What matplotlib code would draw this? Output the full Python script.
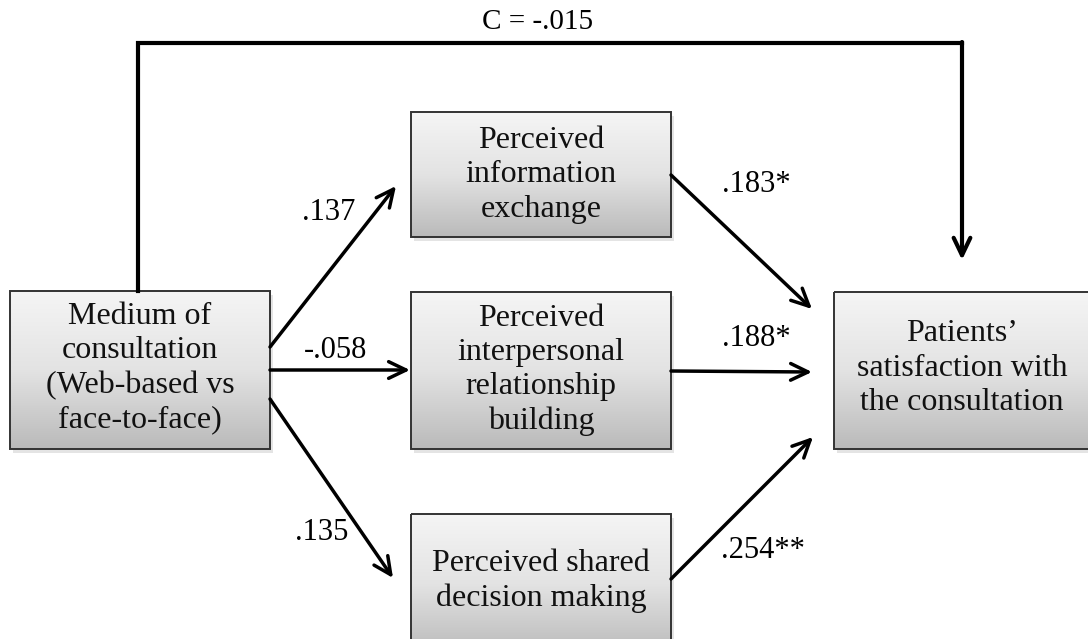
"""Mediation path diagram: medium of consultation -> patient satisfaction."""

import matplotlib

matplotlib.use("Agg")
import matplotlib.pyplot as plt
import numpy as np
from matplotlib.colors import LinearSegmentedColormap
from matplotlib.patches import Rectangle

plt.rcParams["font.family"] = ["Liberation Serif", "DejaVu Serif"]

# node labels
predictor = "Medium of\nconsultation\n(Web-based vs\nface-to-face)"
mediators = [
    "Perceived\ninformation\nexchange",
    "Perceived\ninterpersonal\nrelationship\nbuilding",
    "Perceived shared\ndecision making",
]
outcome = "Patients\u2019\nsatisfaction with\nthe consultation"

# path coefficients
a_paths = [".137", "-.058", ".135"]
b_paths = [".183*", ".188*", ".254**"]
direct_path = "C = -.015"

# layout in pixel units (x right, y down)
W, H = 1088, 639
pred_box = (10, 291, 260, 158)
med_boxes = [(411, 112, 260, 125), (411, 292, 260, 157), (411, 514, 260, 140)]
out_box = (834, 292, 256, 157)
pred_text_y = 368
med_text_y = [175, 370, 581]
out_text_y = 368

a_starts = [(270, 347), (270, 370), (270, 399)]
a_ends = [(396, 186), (410, 370), (393, 578)]
b_starts = [(671, 175), (671, 371), (671, 579)]
b_ends = [(812, 309), (812, 372), (813, 437)]
a_label_pos = [(329, 213), (336, 350), (322, 533)]
b_label_pos = [(756, 184), (756, 338), (763, 550)]

fig = plt.figure(figsize=(W / 100, H / 100), dpi=100)
ax = fig.add_axes([0, 0, 1, 1])
ax.set_xlim(0, W)
ax.set_ylim(H, 0)
ax.axis("off")

grey = LinearSegmentedColormap.from_list("box", ["#f5f5f5", "#e3e3e3", "#bababa"])
gradient = np.linspace(0, 1, 256).reshape(-1, 1)


def draw_box(box, text, text_y):
    x, y, w, h = box
    shadow = Rectangle((x + 3, y + 4), w, h, facecolor="#d2d2d2", edgecolor="none",
                       alpha=0.6, zorder=1)
    ax.add_patch(shadow)
    frame = Rectangle((x, y), w, h, facecolor="none", edgecolor="#333333",
                      linewidth=1.4, zorder=3)
    ax.add_patch(frame)
    img = ax.imshow(gradient, cmap=grey, aspect="auto", extent=(x, x + w, y + h, y),
                    zorder=2)
    img.set_clip_path(frame)
    ax.text(x + w / 2, text_y, text, ha="center", va="center", fontsize=23,
            linespacing=1.24, color="#111111", zorder=4)


def draw_arrow(start, end, lw=2.5):
    ax.annotate("", xy=end, xytext=start,
                arrowprops=dict(arrowstyle="->,head_length=1.25,head_width=0.6",
                                color="black", lw=lw, shrinkA=0, shrinkB=0),
                zorder=5)


draw_box(pred_box, predictor, pred_text_y)
for box, label, ty in zip(med_boxes, mediators, med_text_y):
    draw_box(box, label, ty)
draw_box(out_box, outcome, out_text_y)

for start, end in zip(a_starts, a_ends):
    draw_arrow(start, end)
for start, end in zip(b_starts, b_ends):
    draw_arrow(start, end)

for pos, label in zip(a_label_pos, a_paths):
    ax.text(*pos, label, ha="center", va="center", fontsize=22)
for pos, label in zip(b_label_pos, b_paths):
    ax.text(*pos, label, ha="center", va="center", fontsize=22)

# direct path c drawn over the top
ax.plot([138, 138, 962], [291, 43, 43], color="black", lw=3,
        solid_joinstyle="miter", zorder=5)
draw_arrow((962, 42), (962, 260), lw=3)
ax.text(538, 22, direct_path, ha="center", va="center", fontsize=21)

fig.savefig("out.png", dpi=100)
